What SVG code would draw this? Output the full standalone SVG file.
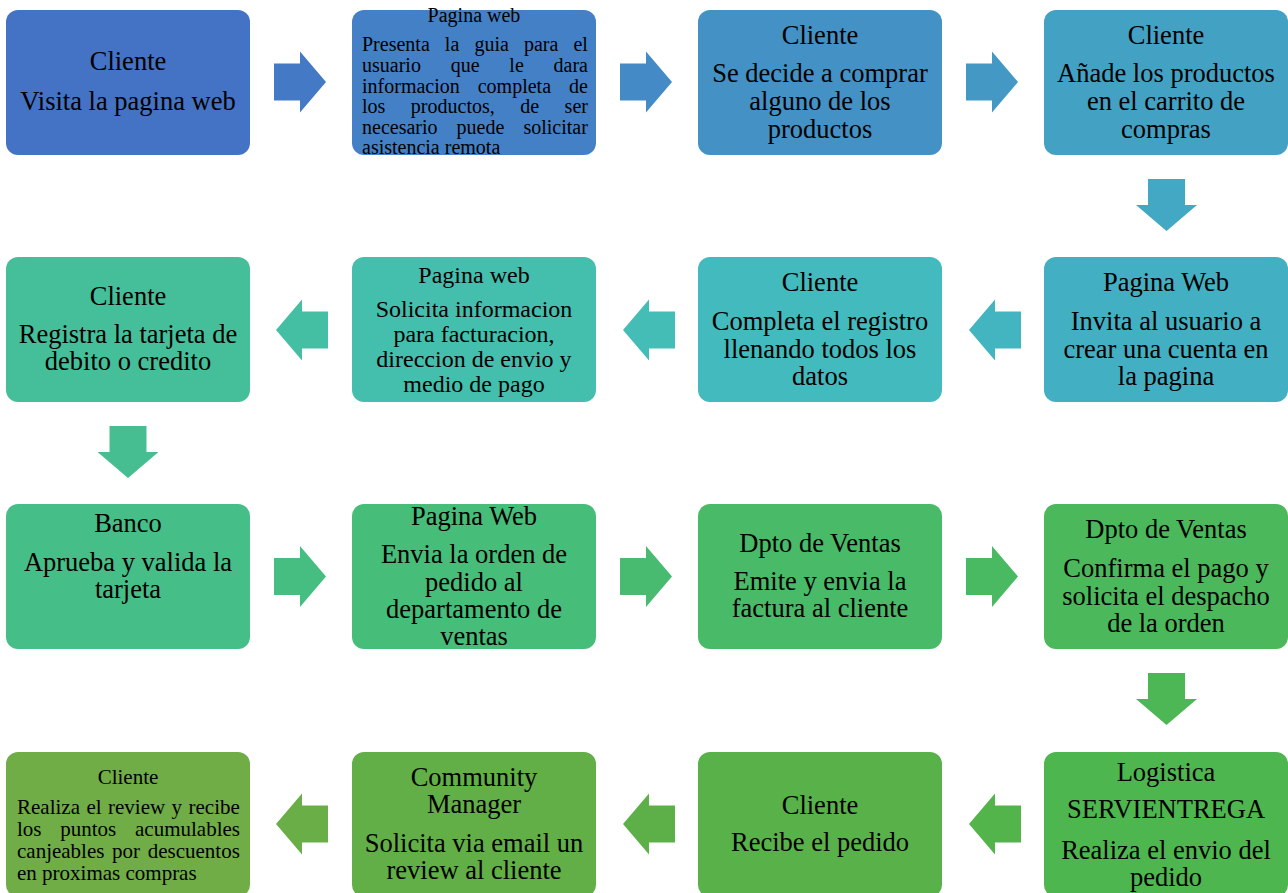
<svg xmlns="http://www.w3.org/2000/svg" xmlns:xlink="http://www.w3.org/1999/xlink" width="1288" height="893" viewBox="0 0 1288 893">
<style>
text{font-family:"Liberation Serif","Times New Roman",serif;fill:#000}
.c{text-anchor:middle;font-size:26.5px}
.m{text-anchor:middle;font-size:24px}
.s{font-size:20px}
.s21{font-size:21px}
</style>
<defs>
<path id="ar" d="M-26,-18.5 H0 V-30.5 L26,0 L0,30.5 V18.5 H-26 Z"/>
<path id="ad" d="M-18.5,-26 H18.5 V0 H30.5 L0,26 L-30.5,0 H-18.5 Z"/>
</defs>
<rect width="1288" height="893" fill="#fff"/>
<g id="connectors">
<use href="#ar" transform="translate(300,82)" fill="#4479C5"/>
<use href="#ar" transform="translate(646,82)" fill="#438AC6"/>
<use href="#ar" transform="translate(992,82)" fill="#4399C4"/>
<use href="#ad" transform="translate(1166.5,205)" fill="#43A8C3"/>
<use href="#ar" transform="translate(995,330) scale(-1,1)" fill="#43B5C0"/>
<use href="#ar" transform="translate(649,330) scale(-1,1)" fill="#43BDB6"/>
<use href="#ar" transform="translate(302,330) scale(-1,1)" fill="#45BFA4"/>
<use href="#ad" transform="translate(128,452)" fill="#46BE91"/>
<use href="#ar" transform="translate(300,576.5)" fill="#46BE81"/>
<use href="#ar" transform="translate(646,576.5)" fill="#48BB71"/>
<use href="#ar" transform="translate(992,576.5)" fill="#49B962"/>
<use href="#ad" transform="translate(1166.5,699)" fill="#4CB754"/>
<use href="#ar" transform="translate(995,824) scale(-1,1)" fill="#53B44B"/>
<use href="#ar" transform="translate(649,824) scale(-1,1)" fill="#5DB048"/>
<use href="#ar" transform="translate(302,824) scale(-1,1)" fill="#69AE47"/>
</g>
<g id="n1"><rect x="6" y="10" width="244" height="145" rx="12" fill="#4472C4"/>
<text class="c" x="128" y="70">Cliente</text><text class="c" x="128" y="110">Visita la pagina web</text></g>
<g id="n2"><rect x="352" y="10" width="244" height="145" rx="12" fill="#4380C6"/>
<text class="s" x="474" y="22" text-anchor="middle">Pagina web</text>
<text class="s" x="362" y="51" word-spacing="10.1">Presenta la guia para el</text>
<text class="s" x="362" y="72" word-spacing="24.8">usuario que le dara</text>
<text class="s" x="362" y="93" word-spacing="13">informacion completa de</text>
<text class="s" x="362" y="113" word-spacing="20.5">los productos, de ser</text>
<text class="s" x="362" y="134" word-spacing="14.1">necesario puede solicitar</text>
<text class="s" x="362" y="154">asistencia remota</text></g>
<g id="n3"><rect x="698" y="10" width="244" height="145" rx="12" fill="#4391C5"/>
<text class="c" x="820" y="44">Cliente</text><text class="c" x="820" y="82">Se decide a comprar</text><text class="c" x="820" y="110">alguno de los</text><text class="c" x="820" y="138">productos</text></g>
<g id="n4"><rect x="1044" y="10" width="244" height="145" rx="12" fill="#43A1C3"/>
<text class="c" x="1166" y="44">Cliente</text><text class="c" x="1166" y="82">Añade los productos</text><text class="c" x="1166" y="110">en el carrito de</text><text class="c" x="1166" y="138">compras</text></g>
<g id="n5"><rect x="1044" y="257" width="244" height="145" rx="12" fill="#43AFC2"/>
<text class="c" x="1166" y="291">Pagina Web</text><text class="c" x="1166" y="330">Invita al usuario a</text><text class="c" x="1166" y="358">crear una cuenta en</text><text class="c" x="1166" y="385">la pagina</text></g>
<g id="n6"><rect x="698" y="257" width="244" height="145" rx="12" fill="#43BABD"/>
<text class="c" x="820" y="291">Cliente</text><text class="c" x="820" y="330">Completa el registro</text><text class="c" x="820" y="358">llenando todos los</text><text class="c" x="820" y="385">datos</text></g>
<g id="n7"><rect x="352" y="257" width="244" height="145" rx="12" fill="#44BFAE"/>
<text class="m" x="474" y="283">Pagina web</text><text class="m" x="474" y="317">Solicita informacion</text><text class="m" x="474" y="342">para facturacion,</text><text class="m" x="474" y="367">direccion de envio y</text><text class="m" x="474" y="392">medio de pago</text></g>
<g id="n8"><rect x="6" y="257" width="244" height="145" rx="12" fill="#45BF9A"/>
<text class="c" x="128" y="305">Cliente</text><text class="c" x="128" y="343">Registra la tarjeta de</text><text class="c" x="128" y="370">debito o credito</text></g>
<g id="n9"><rect x="6" y="504" width="244" height="145" rx="12" fill="#46BE88"/>
<text class="c" x="128" y="532">Banco</text><text class="c" x="128" y="571">Aprueba y valida la</text><text class="c" x="128" y="598">tarjeta</text></g>
<g id="n10"><rect x="352" y="504" width="244" height="145" rx="12" fill="#47BD7A"/>
<text class="c" x="474" y="525">Pagina Web</text><text class="c" x="474" y="563">Envia la orden de</text><text class="c" x="474" y="591">pedido al</text><text class="c" x="474" y="618">departamento de</text><text class="c" x="474" y="645">ventas</text></g>
<g id="n11"><rect x="698" y="504" width="244" height="145" rx="12" fill="#48BA68"/>
<text class="c" x="820" y="552">Dpto de Ventas</text><text class="c" x="820" y="590">Emite y envia la</text><text class="c" x="820" y="617">factura al cliente</text></g>
<g id="n12"><rect x="1044" y="504" width="244" height="145" rx="12" fill="#4AB85B"/>
<text class="c" x="1166" y="538">Dpto de Ventas</text><text class="c" x="1166" y="577">Confirma el pago y</text><text class="c" x="1166" y="605">solicita el despacho</text><text class="c" x="1166" y="632">de la orden</text></g>
<g id="n13"><rect x="1044" y="752" width="244" height="145" rx="12" fill="#4EB64E"/>
<text class="c" x="1166" y="781">Logistica</text><text class="c" x="1166" y="818">SERVIENTREGA</text><text class="c" x="1166" y="859">Realiza el envio del</text><text class="c" x="1166" y="886">pedido</text></g>
<g id="n14"><rect x="698" y="752" width="244" height="145" rx="12" fill="#58B249"/>
<text class="c" x="820" y="814">Cliente</text><text class="c" x="820" y="851">Recibe el pedido</text></g>
<g id="n15"><rect x="352" y="752" width="244" height="145" rx="12" fill="#62AF47"/>
<text class="c" x="474" y="786">Community</text><text class="c" x="474" y="813">Manager</text><text class="c" x="474" y="852">Solicita via email un</text><text class="c" x="474" y="879">review al cliente</text></g>
<g id="n16"><rect x="6" y="752" width="244" height="145" rx="12" fill="#70AD47"/>
<text class="s21" x="128" y="784" text-anchor="middle">Cliente</text>
<text class="s21" x="17" y="814" word-spacing="1.2">Realiza el review y recibe</text>
<text class="s21" x="17" y="836" word-spacing="13.5">los puntos acumulables</text>
<text class="s21" x="17" y="858" word-spacing="2.4">canjeables por descuentos</text>
<text class="s21" x="17" y="880">en proximas compras</text></g>
</svg>
